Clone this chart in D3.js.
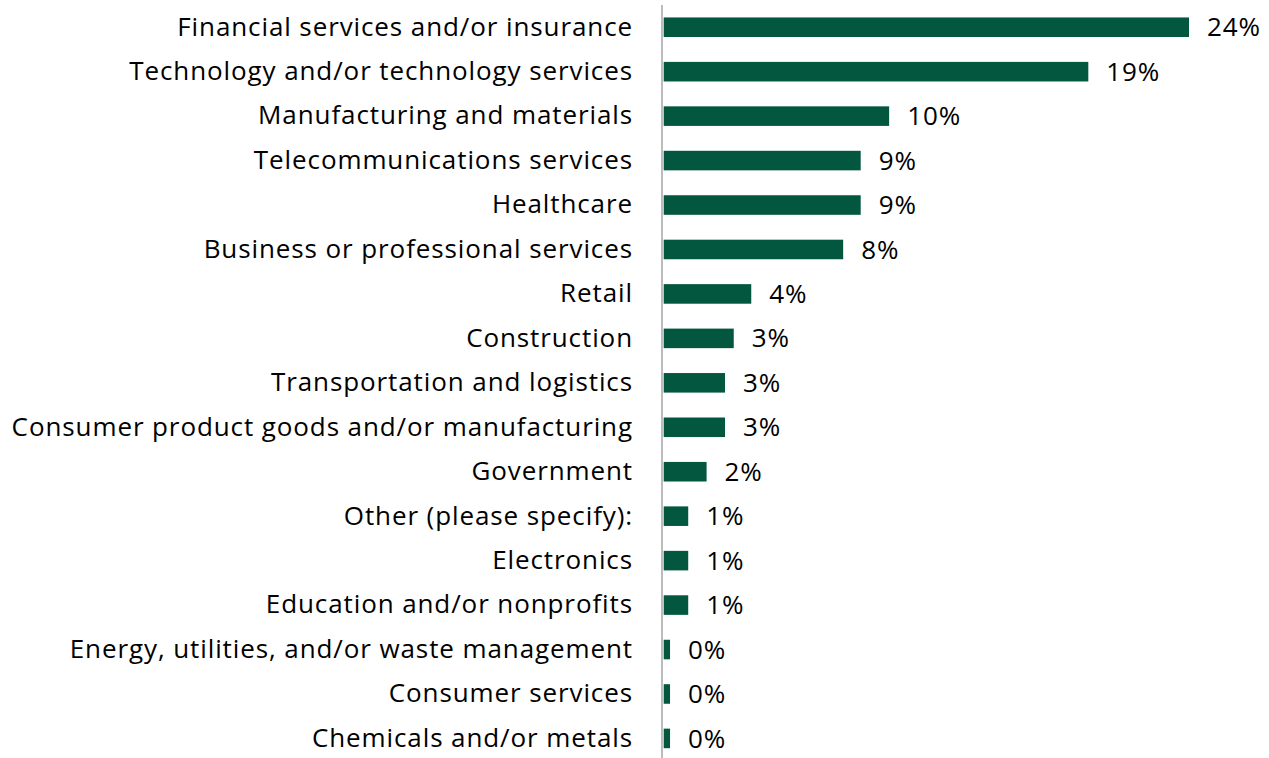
<!DOCTYPE html>
<html>
<head>
<meta charset="utf-8">
<script src="https://cdn.jsdelivr.net/npm/d3@7"></script>
<style>
  html, body { margin: 0; padding: 0; background: #ffffff; }
  svg { display: block; }
  text { font-family: "Open Sans", Lato, sans-serif; fill: #000000; letter-spacing: 0.9px; }
</style>
</head>
<body>
<svg id="chart" width="1269" height="758"></svg>
<script>
// Industry categories, top to bottom
const categories = [
  "Financial services and/or insurance",
  "Technology and/or technology services",
  "Manufacturing and materials",
  "Telecommunications services",
  "Healthcare",
  "Business or professional services",
  "Retail",
  "Construction",
  "Transportation and logistics",
  "Consumer product goods and/or manufacturing",
  "Government",
  "Other (please specify):",
  "Electronics",
  "Education and/or nonprofits",
  "Energy, utilities, and/or waste management",
  "Consumer services",
  "Chemicals and/or metals"
];

// Share of respondents (percent)
const shares = [24.0, 19.4, 10.3, 9.0, 9.0, 8.2, 4.0, 3.2, 2.8, 2.8, 1.96, 1.12, 1.12, 1.12, 0.29, 0.29, 0.29];

const width = 1269, height = 758;
const margin = { top: 5, right: 80, bottom: 0, left: 663.7 };
const fontSize = "26px";

const svg = d3.select("#chart");

const x = d3.scaleLinear()
  .domain([0, 24])
  .range([margin.left, margin.left + 525.3]);

const y = d3.scaleBand()
  .domain(categories)
  .range([5, 5 + 44.45 * categories.length])
  .paddingInner(0.56)
  .paddingOuter(0.28);

const fmt = v => Math.round(v) + "%";

// bars
svg.append("g")
  .selectAll("rect")
  .data(categories)
  .join("rect")
  .attr("x", x(0))
  .attr("y", d => y(d))
  .attr("width", (d, i) => x(shares[i]) - x(0))
  .attr("height", y.bandwidth())
  .attr("fill", "#03573f");

// category axis on the left
const yAxis = d3.axisLeft(y).tickSize(0).tickPadding(29);
const gy = svg.append("g")
  .attr("transform", `translate(${margin.left - 1.7},0)`)
  .call(yAxis);
gy.select(".domain").remove();
gy.selectAll("text")
  .style("font-family", "'Open Sans', Lato, sans-serif")
  .style("font-size", fontSize)
  .style("letter-spacing", "0.9px")
  .attr("fill", "#000");

// vertical baseline
svg.append("line")
  .attr("x1", 662).attr("x2", 662)
  .attr("y1", 5).attr("y2", height)
  .attr("stroke", "#a6a6a6")
  .attr("stroke-width", 1.5);

// value labels
svg.append("g")
  .selectAll("text")
  .data(categories)
  .join("text")
  .attr("x", (d, i) => x(shares[i]) + 18)
  .attr("y", d => y(d) + y.bandwidth() / 2)
  .attr("dy", "0.35em")
  .style("font-size", fontSize)
  .text((d, i) => fmt(shares[i]));
</script>
</body>
</html>
